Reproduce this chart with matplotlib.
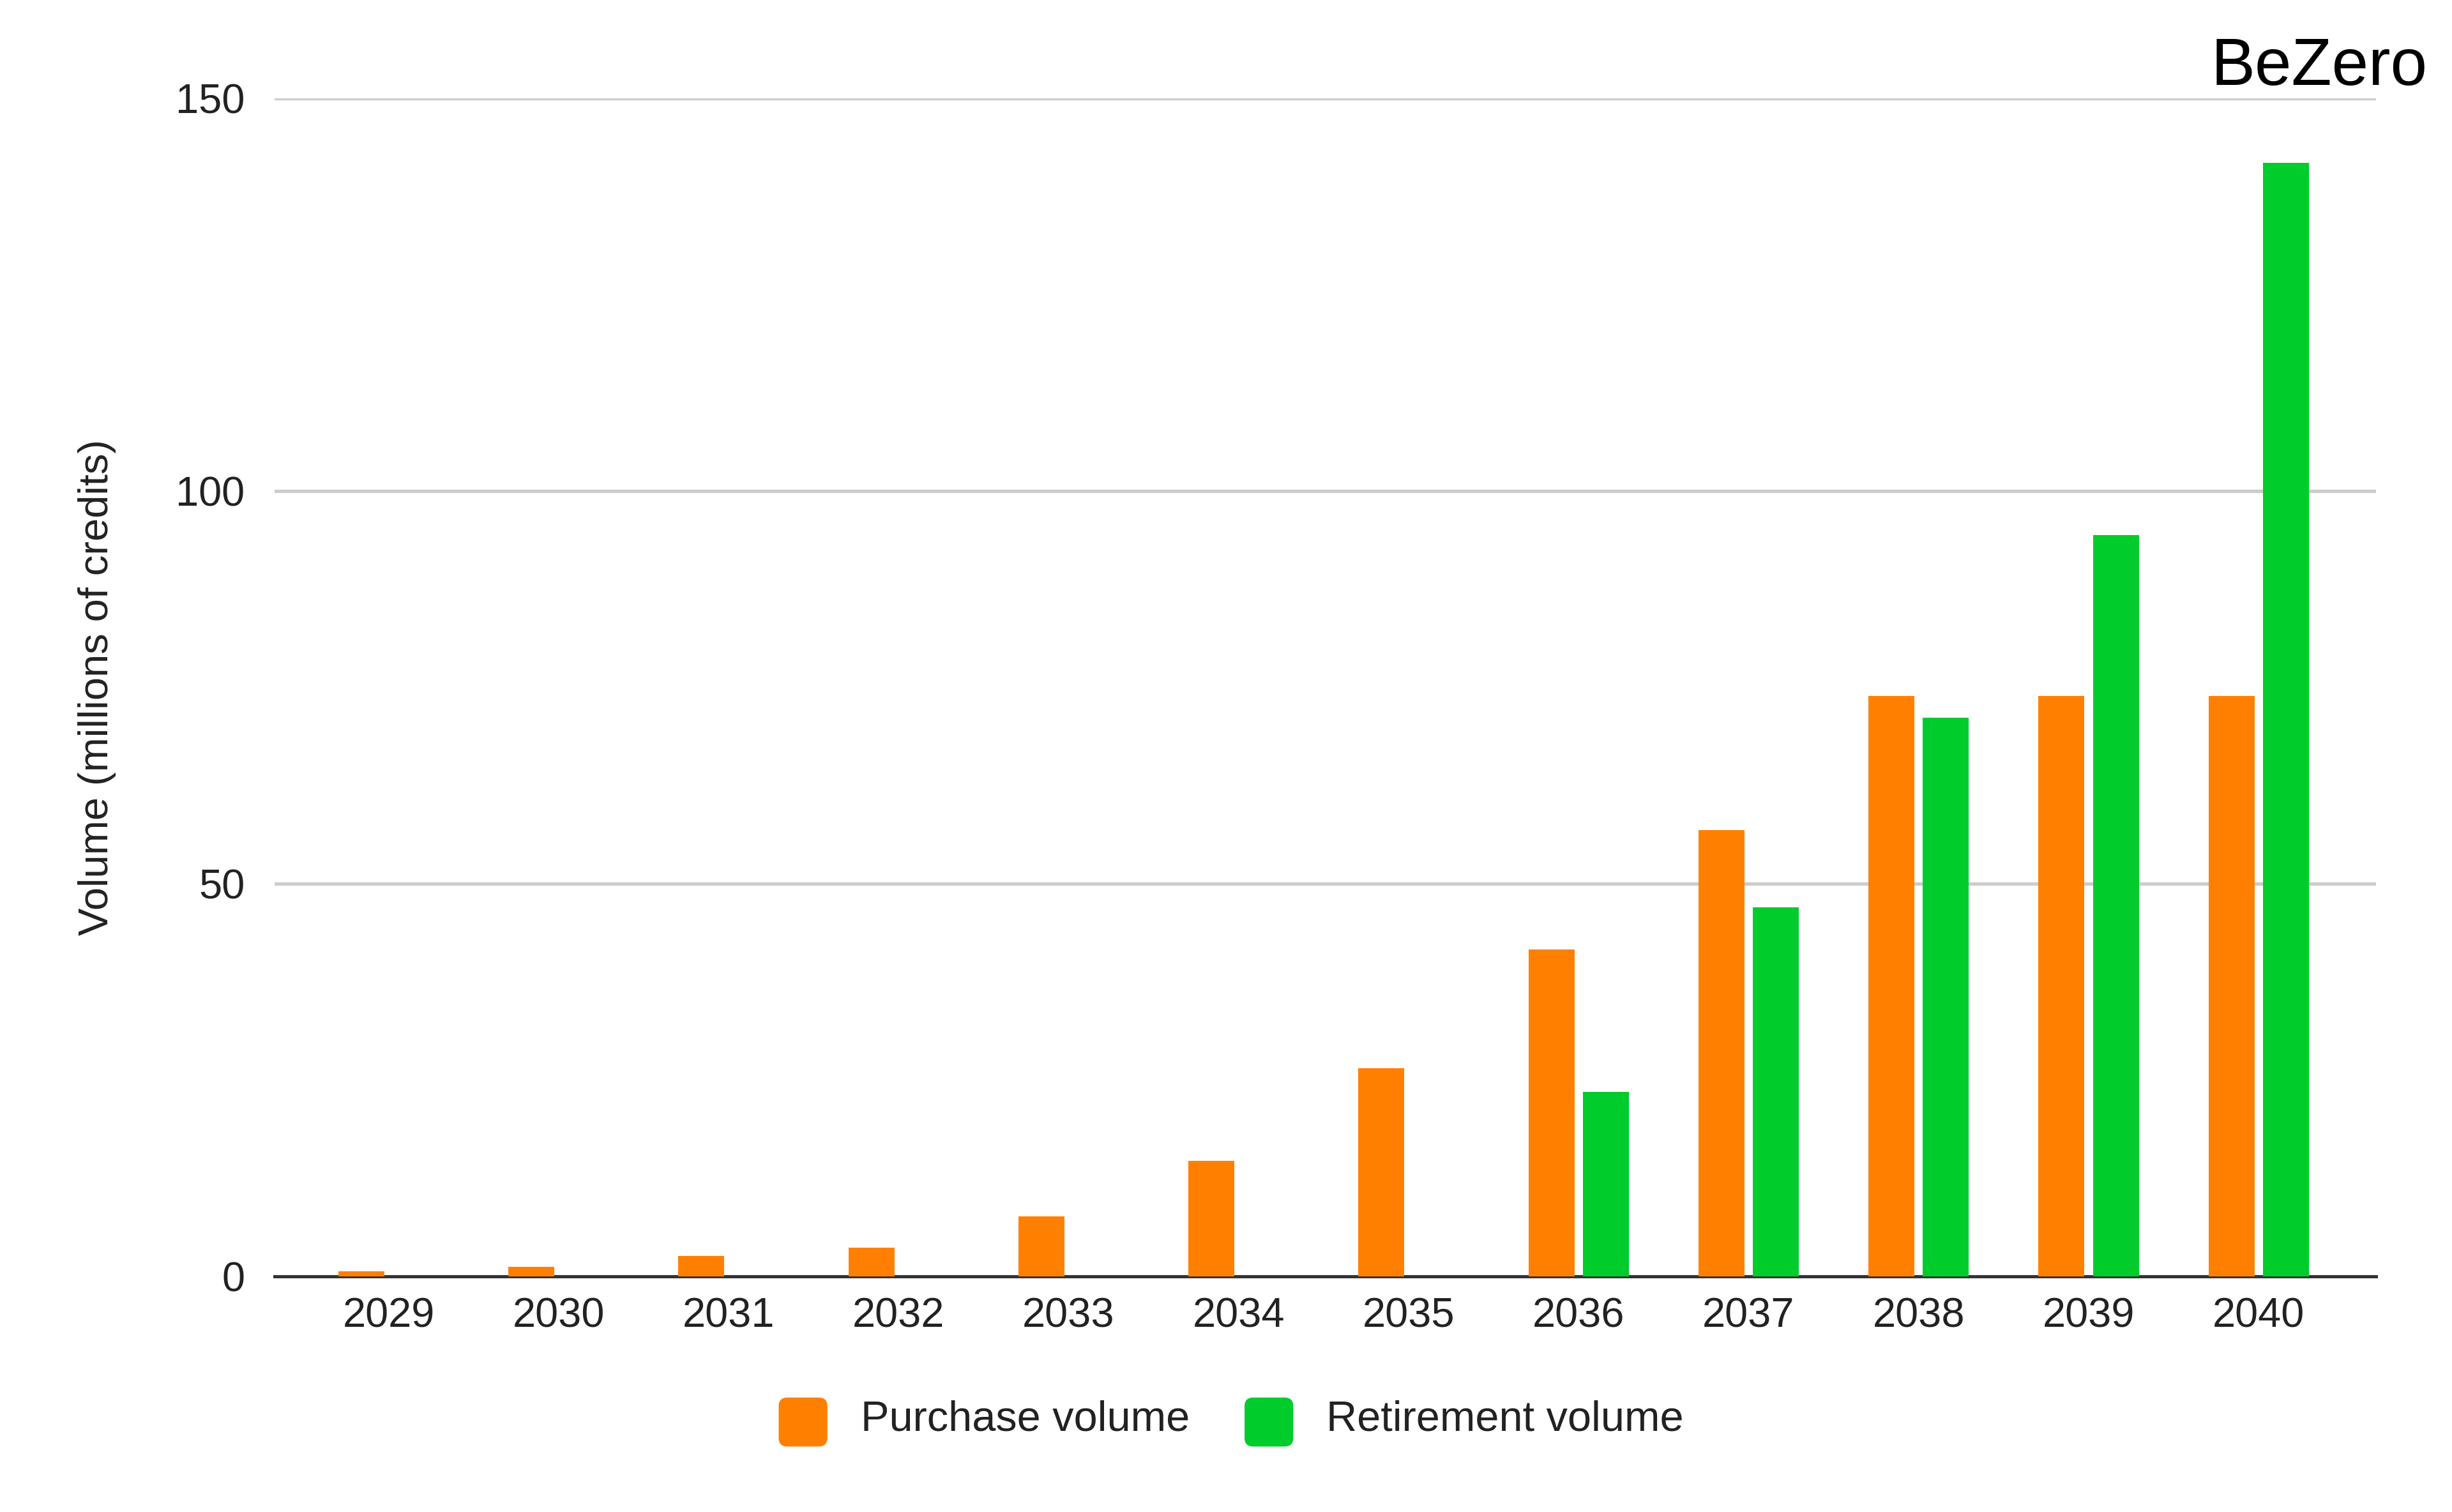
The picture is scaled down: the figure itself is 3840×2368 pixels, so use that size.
import matplotlib
matplotlib.use("Agg")
import matplotlib.pyplot as plt
import numpy as np
from matplotlib.patches import FancyBboxPatch

plt.rcParams["font.family"] = "Liberation Sans"

years = ["2029","2030","2031","2032","2033","2034","2035","2036","2037","2038","2039","2040"]
purchase = [0.6, 1.2, 2.6, 3.6, 7.6, 14.7, 26.5, 41.6, 56.8, 73.9, 73.9, 73.9]
retirement = [0, 0, 0, 0, 0, 0, 0, 23.5, 47.0, 71.1, 94.4, 141.8]
yticks = [0, 50, 100, 150]

ORANGE = "#FF8000"
GREEN = "#00CC2C"

fig = plt.figure(figsize=(16, 9.867), dpi=240)
ax = fig.add_axes([0.112, 0.156, 0.857, 0.779])
x = np.arange(len(years))
w = 0.27
ax.bar(x - 0.16, purchase, w, color=ORANGE, zorder=3)
ax.bar(x + 0.16, retirement, w, color=GREEN, zorder=3)
ax.set_xlim(-0.67, len(years) - 0.31)
ax.set_ylim(0, 150)
ax.set_yticks(yticks)
ax.set_yticklabels([str(t) for t in yticks])
ax.set_xticks(x)
ax.set_xticklabels(years)
ax.grid(axis="y", color="#CCCCCC", linewidth=1.6, zorder=0)
for s in ["top", "right", "left"]:
    ax.spines[s].set_visible(False)
ax.spines["bottom"].set_color("#333333")
ax.spines["bottom"].set_linewidth(1.5)
ax.tick_params(axis="both", length=0, labelsize=19.5, colors="#222222", pad=10)
ax.tick_params(axis="y", pad=14)
ax.set_ylabel("Volume (millions of credits)", fontsize=19.5, color="#222222", labelpad=28)

# legend
for xl, col, lab in [(0.318, ORANGE, "Purchase volume"), (0.508, GREEN, "Retirement volume")]:
    p = FancyBboxPatch((xl, 0.044), 0.019, 0.031, boxstyle="round,pad=0,rounding_size=0.003",
                       transform=fig.transFigure, color=col, mutation_aspect=1.6)
    fig.patches.append(p)
    fig.text(xl + 0.033, 0.061, lab, fontsize=20, color="#222222", va="center")

fig.text(0.99, 0.955, "BeZero", fontsize=31, color="black", ha="right", va="center")

fig.savefig("out.png", dpi=240, facecolor="white")
